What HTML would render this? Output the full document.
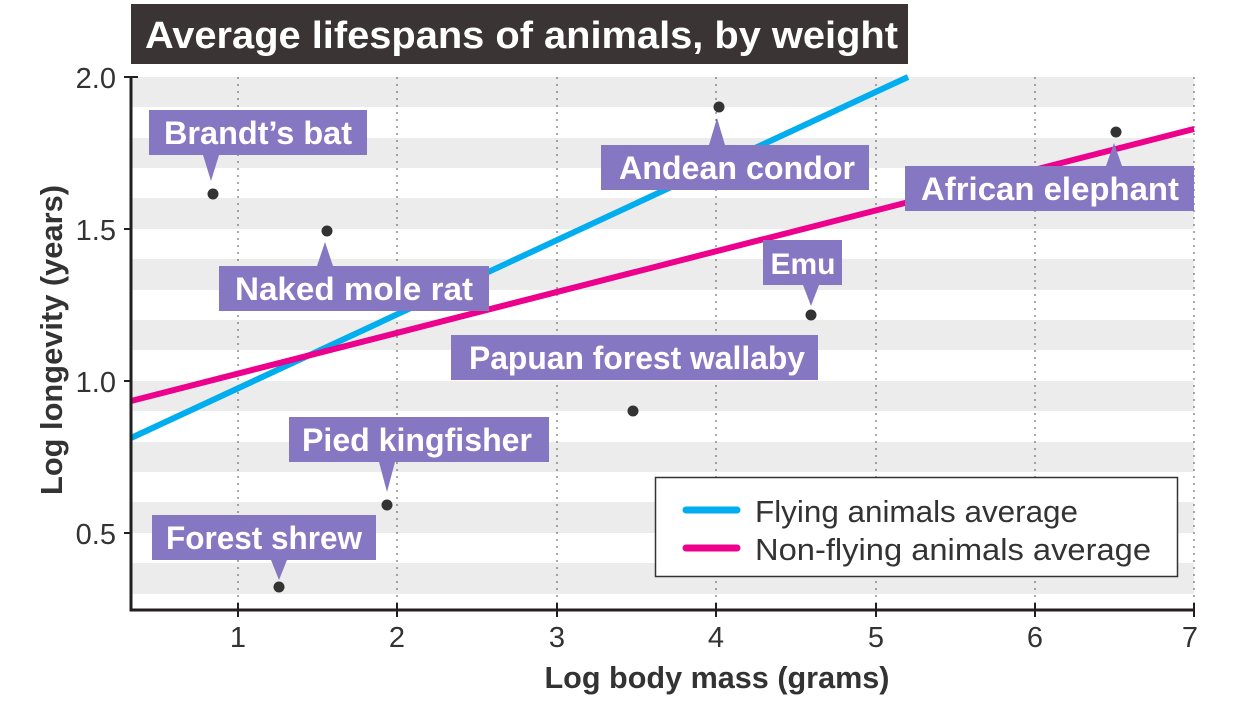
<!DOCTYPE html>
<html><head><meta charset="utf-8"><style>
body{margin:0;background:#fff;}
svg text{font-family:"Liberation Sans",sans-serif;}
</style></head><body>
<svg width="1240" height="700" viewBox="0 0 1240 700" xmlns="http://www.w3.org/2000/svg">
<rect width="1240" height="700" fill="#fff"/>
<g fill="#ececec">
<rect x="131" y="77" width="1063" height="30"/>
<rect x="131" y="138" width="1063" height="30"/>
<rect x="131" y="198" width="1063" height="31"/>
<rect x="131" y="259" width="1063" height="31"/>
<rect x="131" y="320" width="1063" height="30"/>
<rect x="131" y="381" width="1063" height="30"/>
<rect x="131" y="442" width="1063" height="30"/>
<rect x="131" y="502" width="1063" height="31"/>
<rect x="131" y="563" width="1063" height="31"/>
</g>
<g stroke="#555" stroke-width="1" stroke-dasharray="2,5">
<line x1="238" y1="77" x2="238" y2="608"/><line x1="397" y1="77" x2="397" y2="608"/>
<line x1="557" y1="77" x2="557" y2="608"/><line x1="716" y1="77" x2="716" y2="608"/>
<line x1="876" y1="77" x2="876" y2="608"/><line x1="1035" y1="77" x2="1035" y2="608"/>
<line x1="1194" y1="77" x2="1194" y2="608"/>
</g>
<rect x="131" y="4" width="777" height="60" fill="#3a3435"/>
<text x="145" y="48" fill="#fff" font-size="38" font-weight="bold" textLength="753" lengthAdjust="spacingAndGlyphs">Average lifespans of animals, by weight</text>
<line x1="131" y1="438" x2="908" y2="77" stroke="#00aeef" stroke-width="6"/>
<line x1="131" y1="401" x2="1194" y2="129" stroke="#ec008c" stroke-width="6"/>
<path d="M131 77 V610 H1195" stroke="#231f20" stroke-width="3" fill="none"/>
<g stroke="#231f20" stroke-width="2">
<line x1="124" y1="77" x2="138" y2="77"/><line x1="124" y1="229" x2="131" y2="229"/>
<line x1="124" y1="381" x2="131" y2="381"/><line x1="124" y1="533" x2="131" y2="533"/>
<line x1="238" y1="603" x2="238" y2="617"/><line x1="397" y1="603" x2="397" y2="617"/>
<line x1="557" y1="603" x2="557" y2="617"/><line x1="716" y1="603" x2="716" y2="617"/>
<line x1="876" y1="603" x2="876" y2="617"/><line x1="1035" y1="603" x2="1035" y2="617"/>
<line x1="1194" y1="603" x2="1194" y2="617"/>
</g>
<g fill="#333" font-size="29" text-anchor="end">
<text x="116" y="88">2.0</text><text x="116" y="240">1.5</text>
<text x="116" y="392">1.0</text><text x="116" y="544">0.5</text>
</g>
<g fill="#333" font-size="29" text-anchor="middle">
<text x="238" y="647">1</text><text x="397" y="647">2</text><text x="557" y="647">3</text>
<text x="716" y="647">4</text><text x="876" y="647">5</text><text x="1035" y="647">6</text><text x="1190" y="647">7</text>
</g>
<text x="717" y="688" text-anchor="middle" font-size="31" font-weight="bold" fill="#333" textLength="345" lengthAdjust="spacingAndGlyphs">Log body mass (grams)</text>
<text transform="translate(62,340) rotate(-90)" text-anchor="middle" font-size="31" font-weight="bold" fill="#333" textLength="310" lengthAdjust="spacingAndGlyphs">Log longevity (years)</text>
<g fill="#8677c2">
<rect x="149" y="110" width="218" height="45"/><path d="M203 155 L211 181 L219 155Z"/>
<rect x="219" y="266" width="270" height="45"/><path d="M317 266 L325 242 L333 266Z"/>
<rect x="601" y="145" width="268" height="45"/><path d="M709 145 L717 118 L725 145Z"/>
<rect x="905" y="166" width="289" height="45"/><path d="M1106 166 L1114 143 L1122 166Z"/>
<rect x="763" y="240" width="79" height="45"/><path d="M803 285 L811 306 L819 285Z"/>
<rect x="451" y="335" width="367" height="45"/>
<rect x="289" y="417" width="260" height="45"/><path d="M379 462 L387 492 L395 462Z"/>
<rect x="152" y="515" width="224" height="45"/><path d="M271 560 L279 580 L287 560Z"/>
</g>
<g fill="#fff" font-size="32" font-weight="bold" text-anchor="middle">
<text x="258" y="144" textLength="188" lengthAdjust="spacingAndGlyphs">Brandt’s bat</text>
<text x="354" y="300" textLength="238" lengthAdjust="spacingAndGlyphs">Naked mole rat</text>
<text x="737" y="179" textLength="236" lengthAdjust="spacingAndGlyphs">Andean condor</text>
<text x="1050" y="200" textLength="258" lengthAdjust="spacingAndGlyphs">African elephant</text>
<text x="803" y="274" font-size="30">Emu</text>
<text x="637" y="369" textLength="336" lengthAdjust="spacingAndGlyphs">Papuan forest wallaby</text>
<text x="417" y="451" textLength="230" lengthAdjust="spacingAndGlyphs">Pied kingfisher</text>
<text x="264" y="549" textLength="196" lengthAdjust="spacingAndGlyphs">Forest shrew</text>
</g>
<g fill="#333">
<circle cx="213" cy="194" r="5.5"/><circle cx="327" cy="231" r="5.5"/>
<circle cx="719" cy="107" r="5.5"/><circle cx="1116" cy="132" r="5.5"/>
<circle cx="811" cy="315" r="5.5"/><circle cx="633" cy="411" r="5.5"/>
<circle cx="387" cy="505" r="5.5"/><circle cx="279" cy="587" r="5.5"/>
</g>
<rect x="655.5" y="477.5" width="522" height="99" fill="#fff" stroke="#333" stroke-width="1.5"/>
<line x1="686" y1="510" x2="737" y2="510" stroke="#00aeef" stroke-width="7" stroke-linecap="round"/>
<line x1="686" y1="548" x2="737" y2="548" stroke="#ec008c" stroke-width="7" stroke-linecap="round"/>
<g fill="#333" font-size="31">
<text x="755" y="522" textLength="323" lengthAdjust="spacingAndGlyphs">Flying animals average</text>
<text x="755" y="560" textLength="396" lengthAdjust="spacingAndGlyphs">Non-flying animals average</text>
</g>
</svg>
</body></html>
